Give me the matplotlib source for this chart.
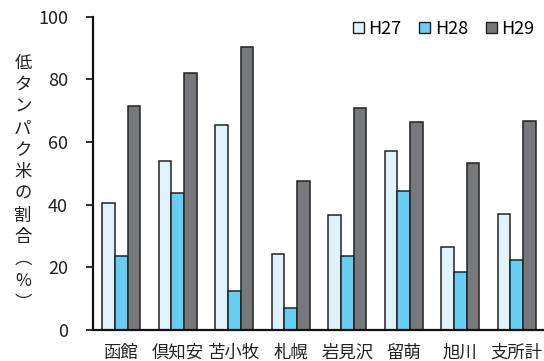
import matplotlib
matplotlib.use("Agg")
import matplotlib.pyplot as plt
import numpy as np

plt.rcParams['font.family'] = ['Noto Sans CJK JP', 'DejaVu Sans']

categories = ["函館", "倶知安", "苫小牧", "札幌", "岩見沢", "留萌", "旭川", "支所計"]
h27 = [40.5, 54.0, 65.4, 24.2, 36.8, 57.1, 26.6, 37.1]
h28 = [23.5, 43.8, 12.4, 6.9, 23.6, 44.3, 18.6, 22.3]
h29 = [71.5, 82.0, 90.2, 47.5, 70.7, 66.3, 53.2, 66.7]
series_names = ["H27", "H28", "H29"]
colors = ["#e0f3fb", "#66cdf3", "#77787c"]
ylabel_text = "低タンパク米の割合︵%︶"

fig = plt.figure(figsize=(5.44, 3.61), dpi=100)
ax = fig.add_axes([93 / 544, 1 - 330 / 361, 452 / 544, (330 - 16.7) / 361])

x = np.arange(len(categories))
w = 0.222
for i, (vals, name, c) in enumerate(zip([h27, h28, h29], series_names, colors)):
    ax.bar(x + (i - 1) * w, vals, width=w, color=c, edgecolor="#222222",
           linewidth=1.1, label=name, zorder=2)

ax.set_xlim(-0.5, len(categories) - 0.5)
ax.set_ylim(0, 100)
ax.set_yticks([0, 20, 40, 60, 80, 100])
ax.set_xticks(x)
ax.set_xticklabels(categories, fontsize=12.5, color='#222222')
ax.tick_params(axis='x', length=0, pad=10)
ax.tick_params(axis='y', length=5, width=1.3, direction='out', pad=13, labelsize=13,
               colors='#222222')
for s in ['top', 'right']:
    ax.spines[s].set_visible(False)
for s in ['left', 'bottom']:
    ax.spines[s].set_linewidth(1.6)
    ax.spines[s].set_color('#111111')

fig.text(23 / 544, 1 - 183 / 361, "\n".join(ylabel_text), ha='center', va='center',
         fontsize=12.5, linespacing=1.27, color='#222222')

leg = ax.legend(ncol=3, loc='upper right', bbox_to_anchor=(1.005, 1.03), frameon=False,
                fontsize=13, handlelength=0.6, handleheight=0.6, handletextpad=0.25,
                columnspacing=1.0, borderpad=0.2)
for h in leg.legend_handles:
    h.set_linewidth(1.0)

fig.savefig("out.png", dpi=100)
